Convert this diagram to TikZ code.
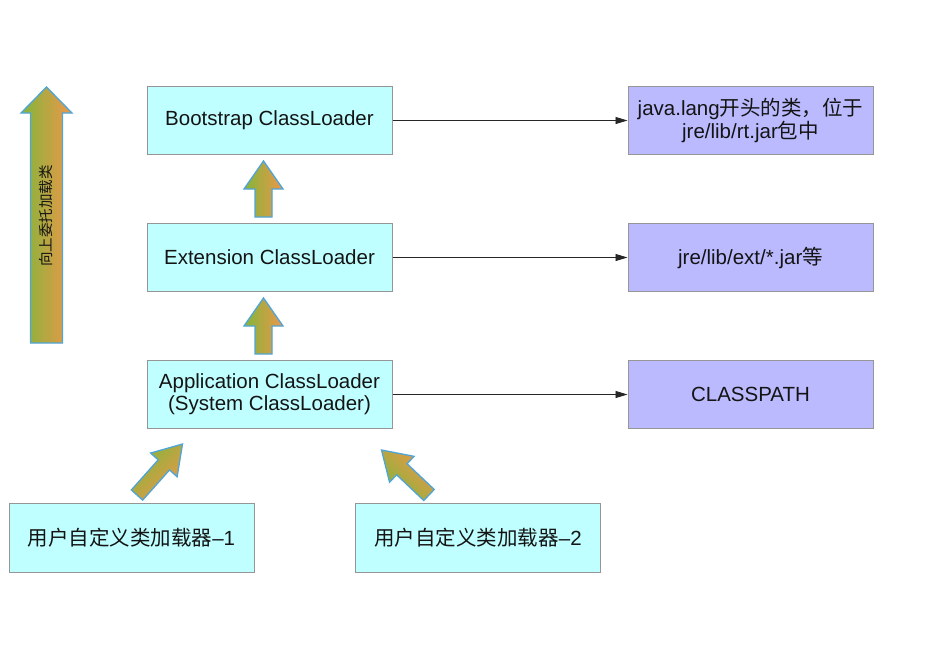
\documentclass[tikz,border=0pt]{standalone}
\usepackage{fontspec}
\setmainfont{Liberation Sans}
\newfontfamily\cjk{Noto Sans CJK SC}
\usetikzlibrary{calc,arrows.meta}
\definecolor{boxcyan}{RGB}{192,255,255}
\definecolor{boxlav}{RGB}{187,186,255}
\definecolor{boxedge}{RGB}{150,150,150}
\definecolor{arrgreen}{RGB}{130,182,58}
\definecolor{arrorange}{RGB}{238,150,74}
\definecolor{arredge}{RGB}{80,165,215}
\definecolor{txt}{RGB}{20,20,20}
\newcommand\blockarrow[7]{%
  % #1 tail, #2 tip, #3 shaft half, #4 head half, #5 head length, #6 shading angle, #7 name
  \coordinate (#7B) at ($(#2)!#5!(#1)$);
  \path[draw=arredge,line width=1.3pt,line join=miter,
        top color=arrgreen,bottom color=arrorange,shading angle=#6]
    ($(#1)!#3!90:(#2)$) -- ($(#1)!#3!-90:(#2)$) --
    ($(#7B)!#3!-90:(#2)$) -- ($(#7B)!#4!-90:(#2)$) -- (#2) --
    ($(#7B)!#4!90:(#2)$) -- ($(#7B)!#3!90:(#2)$) -- cycle;
}
\begin{document}
\begin{tikzpicture}[x=1pt,y=1pt,
  every node/.style={text=txt,font=\fontsize{20.5}{24}\selectfont},
  cbox/.style={draw=boxedge,line width=1pt,fill=boxcyan,minimum width=245pt,minimum height=68pt,align=center,inner sep=0pt},
  lbox/.style={draw=boxedge,line width=1pt,fill=boxlav,minimum width=245pt,minimum height=68pt,align=center,inner sep=0pt},
  link/.style={draw=black!85,line width=0.9pt,-{Triangle[length=12pt,width=7pt]}}]
\useasboundingbox (0,0) rectangle (943,-662);
\fill[white] (0,0) rectangle (943,-662);

\node[cbox] (boot) at (269.5,-120.5) {Bootstrap ClassLoader};
\node[cbox] (ext)  at (269.5,-257.5) {Extension ClassLoader};
\node[cbox] (app)  at (269.5,-394.5) {Application ClassLoader\\[-2pt](System ClassLoader)};
\node[lbox] (r1) at (750.5,-120.5) {java.lang{\cjk 开头的类，位于}\\[-1pt]jre/lib/rt.jar{\cjk 包中}};
\node[lbox] (r2) at (750.5,-257.5) {jre/lib/ext/*.jar{\cjk 等}};
\node[lbox] (r3) at (750.5,-394.5) {CLASSPATH};
\node[cbox,minimum height=69pt] (u1) at (131.5,-537.5) {{\cjk 用户自定义类加载器}–1};
\node[cbox,minimum height=69pt] (u2) at (478,-537.5) {{\cjk 用户自定义类加载器}–2};

\draw[link] (boot.east) -- (r1.west);
\draw[link] (ext.east) -- (r2.west);
\draw[link] (app.east) -- (r3.west);

% vertical block arrows
\coordinate (a1t) at ($(ext.north)+(-6,6)$);
\coordinate (a1p) at ($(boot.south)+(-6,-6)$);
\blockarrow{a1t}{a1p}{8.5pt}{19.5pt}{28pt}{90}{a1}
\coordinate (a2t) at ($(app.north)+(-6,6)$);
\coordinate (a2p) at ($(ext.south)+(-6,-6)$);
\blockarrow{a2t}{a2p}{8.5pt}{19.5pt}{28pt}{90}{a2}

% diagonal block arrows
\coordinate (d1t) at (137,-495);
\coordinate (d1p) at (182.5,-444);
\blockarrow{d1t}{d1p}{7.6pt}{17.8pt}{28pt}{45}{d1}
\coordinate (d2t) at (429,-495);
\coordinate (d2p) at (381.5,-450);
\blockarrow{d2t}{d2p}{7.6pt}{17.8pt}{28pt}{135}{d2}

% big left arrow
\coordinate (bt) at (46.5,-343);
\coordinate (bp) at (46.5,-87);
\blockarrow{bt}{bp}{16pt}{25.5pt}{26pt}{90}{bg}
\node[rotate=90,font=\cjk\fontsize{14.5}{16}\selectfont] (lbl) at (46,-216) {向上委托加载类};
\end{tikzpicture}
\end{document}
